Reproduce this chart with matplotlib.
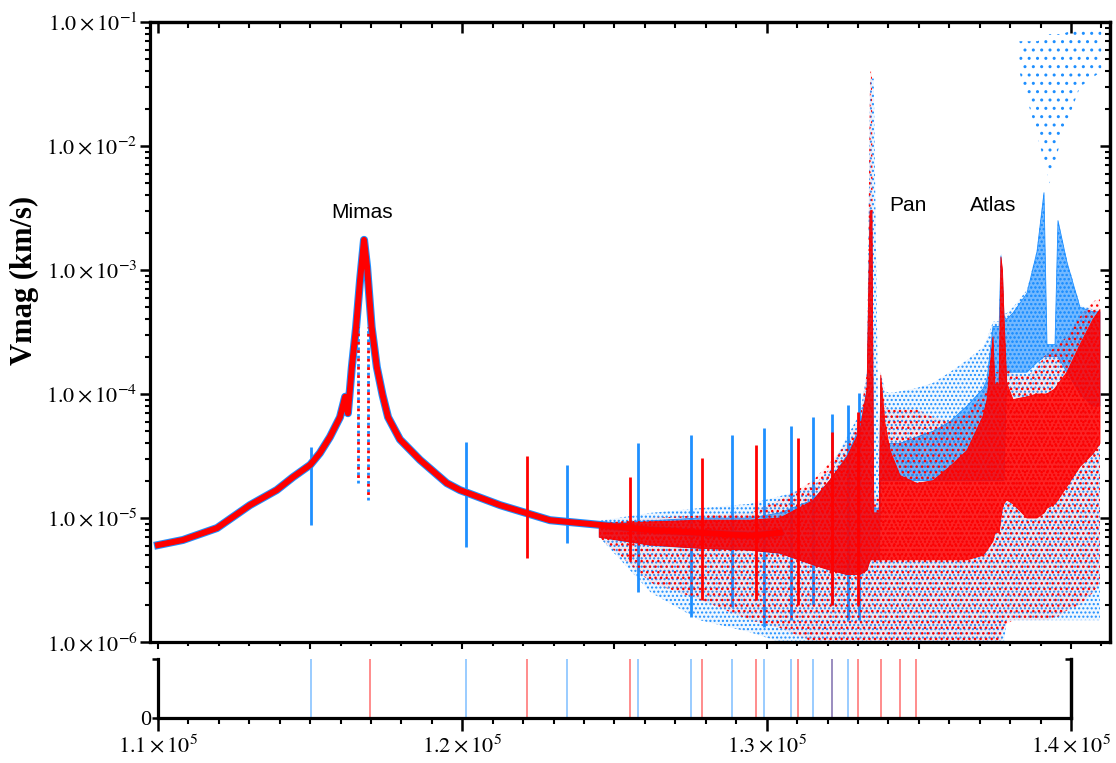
import matplotlib
matplotlib.use('Agg')
import matplotlib.pyplot as plt
from matplotlib.ticker import FixedLocator, MultipleLocator, NullFormatter, LogLocator, FixedFormatter

# ---------------- data ----------------
# main red/blue curve (km from Saturn, Vmag km/s)
curve_x = [110000, 110820, 111940, 113020, 113900, 114440, 115000, 115320, 115650,
           115980, 116150, 116240, 116370, 116510, 116640, 116770, 116870, 117020,
           117190, 117380, 117560, 117950, 118610, 119490, 119920, 121240, 122880,
           124520, 126170, 127810, 129450, 130440]
curve_y = [6.05e-6, 6.65e-6, 8.3e-6, 1.27e-5, 1.68e-5, 2.14e-5, 2.68e-5, 3.34e-5, 4.5e-5,
           6.5e-5, 9.5e-5, 7.0e-5, 1.65e-4, 3.47e-4, 8.3e-4, 1.75e-3, 1.06e-3, 3.47e-4,
           1.65e-4, 9.8e-5, 6.5e-5, 4.3e-5, 2.94e-5, 1.91e-5, 1.68e-5, 1.27e-5, 9.6e-6,
           8.8e-6, 8.0e-6, 7.6e-6, 7.2e-6, 7.6e-6]

# Mimas side columns
mimas_col_x = [116570, 116910]
mimas_col_lo = [1.9e-5, 1.4e-5]
mimas_col_hi = [3.5e-4, 3.5e-4]

# resonance spikes
blue_spike_x = [115030, 120110, 123430, 125780, 127520, 128860, 129920, 130800,
                131530, 132140, 132670, 133040]
blue_spike_top = [3.74e-5, 4.12e-5, 2.68e-5, 4.05e-5, 4.67e-5, 4.67e-5, 5.32e-5, 5.52e-5,
                  6.53e-5, 6.9e-5, 8.15e-5, 1.02e-4]
blue_spike_bot = [8.8e-6, 5.87e-6, 6.28e-6, 2.55e-6, 1.59e-6, 1.91e-6, 1.32e-6, 1.5e-6,
                  2.0e-6, 2.0e-6, 1.5e-6, 1.5e-6]
red_spike_x = [122140, 125510, 127890, 129650, 131020, 132140, 133000]
red_spike_top = [3.16e-5, 2.15e-5, 3.03e-5, 3.88e-5, 4.42e-5, 4.94e-5, 7.2e-5]
red_spike_bot = [4.75e-6, 4.58e-6, 2.18e-6, 2.2e-6, 2.0e-6, 2.0e-6, 2.0e-6]

# scattered cloud envelopes (outer ring region)
cloud_x = [124500, 126200, 127800, 129450, 130440, 131520, 132080, 132640, 133070, 133300,
           133400, 133460, 133520, 133700, 133750, 133890, 134055, 134383, 134942, 135467,
           136025, 136584, 137110, 137241, 137438, 137500, 137640, 137700, 137750, 137800,
           137889, 138096, 138556, 138884, 139114, 139213, 139476, 139574, 139870, 140297,
           140724, 140953]
red_dense_hi = [8.8e-6, 9.3e-6, 9.6e-6, 9.6e-6, 1.0e-5, 1.38e-5, 2.02e-5, 3.1e-5, 5.1e-5, 1.08e-4,
                3.0e-3, 3.0e-3, 1.1e-5, 1.1e-5, 1.42e-4, 5.8e-5, 3.5e-5, 2.2e-5, 1.9e-5, 2.0e-5,
                2.6e-5, 3.5e-5, 6.6e-5, 8.95e-5, 2.88e-4, 1.2e-4, 1.2e-4, 1.27e-3, 1.0e-3, 4.18e-4,
                1.23e-4, 9.0e-5, 9.5e-5, 1.0e-4, 1.0e-4, 1.0e-4, 1.1e-4, 1.2e-4, 1.5e-4, 2.5e-4,
                4.0e-4, 4.8e-4]
red_dense_lo = [7.0e-6, 6.05e-6, 5.7e-6, 5.5e-6, 5.2e-6, 4.2e-6, 3.8e-6, 3.5e-6, 3.5e-6, 3.8e-6,
                4.6e-6, 4.6e-6, 4.6e-6, 4.6e-6, 4.6e-6, 4.6e-6, 4.6e-6, 4.6e-6, 4.6e-6, 4.6e-6,
                4.6e-6, 4.6e-6, 5.0e-6, 5.5e-6, 6.5e-6, 7.6e-6, 7.6e-6, 1.0e-5, 1.2e-5, 1.3e-5,
                1.4e-5, 1.3e-5, 1.0e-5, 1.0e-5, 1.1e-5, 1.2e-5, 1.3e-5, 1.4e-5, 1.8e-5, 2.6e-5,
                3.3e-5, 4.0e-5]
red_sparse_hi = [9.0e-6, 1.0e-5, 1.05e-5, 1.1e-5, 1.4e-5, 2.0e-5, 2.8e-5, 4.0e-5, 6.5e-5, 1.5e-4,
                 4.0e-2, 4.0e-2, 1.5e-5, 1.5e-5, 1.5e-4, 8.0e-5, 7.5e-5, 7.5e-5, 7.5e-5, 6.5e-5,
                 6.0e-5, 7.0e-5, 1.0e-4, 1.2e-4, 3.0e-4, 1.5e-4, 1.5e-4, 1.3e-3, 1.0e-3, 4.5e-4,
                 1.64e-4, 1.45e-4, 1.4e-4, 1.6e-4, 2.0e-4, 2.1e-4, 2.4e-4, 2.5e-4, 2.9e-4, 4.2e-4,
                 5.6e-4, 5.8e-4]
red_sparse_lo = [7.0e-6, 3.0e-6, 2.2e-6, 1.5e-6, 1.3e-6, 1.0e-6, 1.0e-6, 1.0e-6, 1.0e-6, 1.0e-6,
                 1.0e-6, 1.0e-6, 1.0e-6, 1.0e-6, 1.0e-6, 1.0e-6, 1.0e-6, 1.0e-6, 1.0e-6, 1.0e-6,
                 1.0e-6, 1.0e-6, 1.0e-6, 1.0e-6, 1.0e-6, 1.0e-6, 1.0e-6, 1.0e-6, 1.2e-6, 1.3e-6,
                 1.4e-6, 1.5e-6, 1.5e-6, 1.5e-6, 1.5e-6, 1.5e-6, 1.6e-6, 1.6e-6, 1.8e-6, 2.0e-6,
                 2.5e-6, 3.0e-6]
blue_sparse_hi = [9.5e-6, 1.1e-5, 1.2e-5, 1.3e-5, 1.5e-5, 1.8e-5, 2.5e-5, 4.5e-5, 7.0e-5, 1.5e-4,
                  3.5e-2, 3.5e-2, 3.5e-2, 1.6e-5, 1.5e-4, 1.05e-4, 1.02e-4, 1.05e-4, 1.12e-4, 1.23e-4,
                  1.5e-4, 1.88e-4, 2.39e-4, 2.8e-4, 3.81e-4, 3.85e-4, 3.85e-4, 1.37e-3, 1.0e-3, 4.5e-4,
                  4.5e-4, 5.0e-4, 6.9e-4, 1.45e-3, 4.3e-3, 2.5e-4, 2.5e-4, 2.53e-3, 1.2e-3, 5.2e-4,
                  4.8e-4, 4.8e-4]
blue_sparse_lo = [7.0e-6, 2.5e-6, 1.5e-6, 1.2e-6, 1.0e-6, 1.0e-6, 1.0e-6, 1.0e-6, 1.0e-6, 1.0e-6,
                  1.0e-6, 1.0e-6, 1.0e-6, 1.0e-6, 1.0e-6, 1.0e-6, 1.0e-6, 1.0e-6, 1.0e-6, 1.0e-6,
                  1.0e-6, 1.0e-6, 1.0e-6, 1.0e-6, 1.0e-6, 1.0e-6, 1.0e-6, 1.0e-6, 1.0e-6, 1.0e-6,
                  1.5e-6, 1.5e-6, 1.5e-6, 1.5e-6, 1.5e-6, 1.5e-6, 1.5e-6, 1.5e-6, 1.5e-6, 1.5e-6,
                  1.5e-6, 1.5e-6]
blue_dense_hi = [9.0e-6, 9.5e-6, 1.0e-5, 1.0e-5, 1.1e-5, 1.4e-5, 2.0e-5, 3.2e-5, 5.5e-5, 1.1e-4,
                 3.0e-3, 3.0e-3, 1.2e-5, 1.2e-5, 1.2e-4, 4.0e-5, 4.0e-5, 4.0e-5, 4.5e-5, 5.0e-5,
                 6.0e-5, 8.0e-5, 1.1e-4, 1.3e-4, 3.5e-4, 3.5e-4, 3.5e-4, 1.3e-3, 9.0e-4, 4.2e-4,
                 4.0e-4, 4.5e-4, 6.5e-4, 1.4e-3, 4.2e-3, 2.5e-4, 2.5e-4, 2.5e-3, 1.15e-3, 5.0e-4,
                 4.6e-4, 4.6e-4]
blue_dense_lo = [7.0e-6, 6.0e-6, 5.7e-6, 5.5e-6, 5.2e-6, 4.2e-6, 3.8e-6, 3.5e-6, 3.5e-6, 3.8e-6,
                 4.6e-6, 4.6e-6, 4.6e-6, 4.6e-6, 2.0e-5, 2.0e-5, 2.0e-5, 2.0e-5, 2.0e-5, 2.0e-5,
                 2.0e-5, 2.0e-5, 2.0e-5, 2.0e-5, 2.0e-5, 2.0e-5, 2.0e-5, 2.0e-5, 2.0e-5, 2.0e-5,
                 1.5e-4, 1.5e-4, 1.5e-4, 1.8e-4, 2.0e-4, 2.0e-4, 2.0e-4, 2.0e-4, 1.5e-4, 1.0e-4,
                 8.0e-5, 8.0e-5]
blue_top_x = [138300, 138900, 139300, 139700, 140300, 141000]
blue_top_lo = [4e-2, 1.2e-2, 5e-3, 1.2e-2, 3e-2, 4e-2]
blue_top_hi = [7e-2, 7e-2, 8e-2, 8e-2, 9e-2, 9e-2]

# resonance locations (lower panel)
res_blue = [115030, 120110, 123430, 125780, 127520, 128860, 129920, 130800, 131530, 132140, 132670]
res_red = [116970, 122140, 125510, 127890, 129650, 131020, 132140, 133000, 133750, 134380, 134900]

moons = ['Mimas', 'Pan', 'Atlas']
ytick_vals = [1e-6, 1e-5, 1e-4, 1e-3, 1e-2, 1e-1]
ytick_labels = [r'$1.0\times10^{-6}$', r'$1.0\times10^{-5}$', r'$1.0\times10^{-4}$',
                r'$1.0\times10^{-3}$', r'$1.0\times10^{-2}$', r'$1.0\times10^{-1}$']
xtick_vals = [110000, 120000, 130000, 140000]
xtick_labels = [r'$1.1\times10^{5}$', r'$1.2\times10^{5}$', r'$1.3\times10^{5}$', r'$1.4\times10^{5}$']

# ---------------- style ----------------
plt.rcParams['mathtext.fontset'] = 'stix'
plt.rcParams['font.family'] = ['Liberation Serif', 'DejaVu Serif']
plt.rcParams['hatch.linewidth'] = 1.0

BLUE = '#1e8fff'
RED = '#ff0000'
SPINE_W = 2.3

fig = plt.figure(figsize=(11.16, 7.63), dpi=100)
W, H = 1116.0, 763.0
ax = fig.add_axes([150 / W, 1 - 642 / H, 960 / W, 620 / H])
axb = fig.add_axes([158 / W, 1 - 718 / H, 913 / W, 59 / H])

ax.set_yscale('log')
ax.set_xlim(109737, 141283)
ax.set_ylim(1e-6, 1e-1)

# blue layers
ax.fill_between(cloud_x, blue_sparse_lo, blue_sparse_hi, facecolor=(0.12, 0.56, 1.0, 0.07),
                edgecolor=BLUE, hatch='....', linewidth=0, zorder=1)
ax.fill_between(blue_top_x, blue_top_lo, blue_top_hi, facecolor='none',
                edgecolor=BLUE, hatch='..', linewidth=0, zorder=1)
ax.fill_between(cloud_x, blue_dense_lo, blue_dense_hi, facecolor=(0.12, 0.56, 1.0, 0.6),
                edgecolor=BLUE, hatch='....', linewidth=0.6, zorder=1.5)
ax.plot(curve_x, curve_y, color=BLUE, lw=5.8, zorder=1.8, solid_joinstyle='round')
ax.vlines(blue_spike_x, blue_spike_bot, blue_spike_top, color=BLUE, lw=2.0, zorder=2)
ax.vlines(mimas_col_x, mimas_col_lo, mimas_col_hi, color=BLUE, lw=2.0, linestyles=(0, (1, 2)), zorder=2)

# red layers
ax.fill_between(cloud_x, red_sparse_lo, red_sparse_hi, facecolor=(1.0, 0.0, 0.0, 0.06),
                edgecolor=RED, hatch='...', linewidth=0, zorder=2.5)
ax.fill_between(cloud_x, red_dense_lo, red_dense_hi, facecolor=(1.0, 0.0, 0.0, 0.85),
                edgecolor=RED, hatch='....', linewidth=0.6, zorder=3)
ax.plot(curve_x, curve_y, color=RED, lw=4.3, zorder=3.2, solid_joinstyle='round')
ax.vlines(red_spike_x, red_spike_bot, red_spike_top, color=RED, lw=2.0, zorder=3.3)
ax.vlines(mimas_col_x, mimas_col_lo, mimas_col_hi, color=RED, lw=2.0,
          linestyles=(1, (1, 2)), zorder=3.3)

# labels of moons
txt_kw = dict(family='Liberation Sans', fontsize=15, ha='center', va='center', zorder=6)
ax.text(116720, 2.9e-3, moons[0], **txt_kw)
ax.text(134640, 3.3e-3, moons[1], **txt_kw)
ax.text(137430, 3.3e-3, moons[2], **txt_kw)

# main axes ticks / spines
for s in ax.spines.values():
    s.set_linewidth(SPINE_W)
ax.yaxis.set_major_locator(FixedLocator(ytick_vals))
ax.yaxis.set_major_formatter(FixedFormatter(ytick_labels))
ax.yaxis.set_minor_locator(LogLocator(base=10, subs=range(2, 10), numticks=20))
ax.yaxis.set_minor_formatter(NullFormatter())
ax.xaxis.set_major_locator(MultipleLocator(5000))
ax.xaxis.set_minor_locator(MultipleLocator(1000))
ax.xaxis.set_major_formatter(NullFormatter())
ax.tick_params(axis='y', which='major', direction='out', length=7, width=1.8, labelsize=16, pad=2)
ax.tick_params(axis='y', which='minor', direction='out', length=3.5, width=1.5)
ax.tick_params(axis='x', which='major', direction='out', length=5, width=1.5)
ax.tick_params(axis='x', which='minor', direction='out', length=3, width=1.5)

secx = ax.secondary_xaxis('top')
secx.xaxis.set_major_locator(MultipleLocator(10000))
secx.xaxis.set_minor_locator(MultipleLocator(1000))
secx.xaxis.set_major_formatter(NullFormatter())
secx.tick_params(axis='x', which='major', direction='in', length=8, width=1.8)
secx.tick_params(axis='x', which='minor', direction='in', length=4, width=1.5)
secx.spines['top'].set_linewidth(SPINE_W)

secy = ax.secondary_yaxis('right')
secy.yaxis.set_major_locator(FixedLocator(ytick_vals))
secy.yaxis.set_minor_locator(LogLocator(base=10, subs=range(2, 10), numticks=20))
secy.yaxis.set_major_formatter(NullFormatter())
secy.yaxis.set_minor_formatter(NullFormatter())
secy.tick_params(axis='y', which='major', direction='in', length=7, width=1.8)
secy.tick_params(axis='y', which='minor', direction='in', length=3.5, width=1.5)
secy.spines['right'].set_linewidth(SPINE_W)

fig.text(24 / W, 1 - 280 / H, 'Vmag (km/s)', rotation=90, ha='center', va='center',
         fontsize=22, fontweight='bold', family='Liberation Serif')

# ---------------- lower panel ----------------
axb.set_xlim(110000, 140000)
axb.set_ylim(0, 1)
axb.vlines(res_red, 0, 1, color=RED, alpha=0.45, lw=1.4)
axb.vlines(res_blue, 0, 1, color=BLUE, alpha=0.45, lw=1.4)
axb.spines['top'].set_visible(False)
for k in ['left', 'bottom', 'right']:
    axb.spines[k].set_linewidth(SPINE_W)
axb.xaxis.set_major_locator(FixedLocator(xtick_vals))
axb.xaxis.set_major_formatter(FixedFormatter(xtick_labels))
axb.xaxis.set_minor_locator(MultipleLocator(1000))
axb.tick_params(axis='x', which='major', direction='out', length=9, width=1.8, labelsize=16, pad=3)
axb.tick_params(axis='x', which='minor', direction='out', length=4, width=1.5)
axb.yaxis.set_major_locator(FixedLocator([0, 1]))
axb.yaxis.set_major_formatter(FixedFormatter(['0', '']))
axb.tick_params(axis='y', which='major', direction='out', length=4, width=1.8, labelsize=16, pad=1)
secyb = axb.secondary_yaxis('right')
secyb.yaxis.set_major_locator(FixedLocator([1]))
secyb.yaxis.set_major_formatter(NullFormatter())
secyb.tick_params(axis='y', direction='in', length=4, width=1.8)
secyb.spines['right'].set_linewidth(SPINE_W)

fig.savefig('out.png', dpi=100, facecolor='white')
